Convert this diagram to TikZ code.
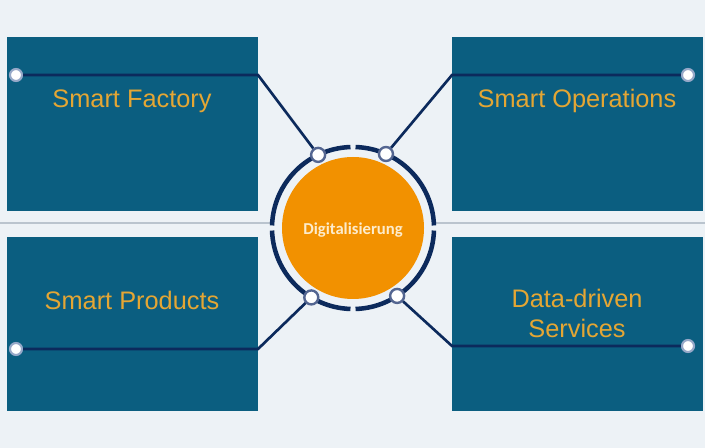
\documentclass[tikz,border=0pt]{standalone}
\usepackage{fontspec}
\setmainfont{Liberation Sans}
\newfontfamily\calib{Carlito}
\usetikzlibrary{positioning,calc}
\definecolor{bgcol}{RGB}{237,242,246}
\definecolor{teal}{RGB}{11,94,128}
\definecolor{navy}{RGB}{12,42,92}
\definecolor{gold}{RGB}{228,166,52}
\definecolor{orng}{RGB}{242,145,0}
\definecolor{cream}{RGB}{253,236,204}
\definecolor{pin}{RGB}{84,102,145}
\definecolor{pinlight}{RGB}{150,168,200}
\definecolor{grayline}{RGB}{186,196,206}
\tikzset{
	field/.style={fill=teal, draw=none, minimum width=188pt, minimum height=130pt, anchor=north west, inner sep=0pt},
	title/.style={text=gold, font=\fontsize{19}{22.5}\selectfont, align=center},
	link/.style={draw=navy, line width=2pt},
	knot/.style={circle, fill=white, draw=pin, line width=1.8pt, minimum size=10.5pt, inner sep=0pt},
	tip/.style={circle, fill=white, draw=pinlight, line width=1.6pt, minimum size=9pt, inner sep=0pt}
}
\begin{document}
\begin{tikzpicture}[x=0.75pt,y=0.75pt,yscale=-1]
	%Background
	\fill[bgcol] (0,0) rectangle (705,448);
	\useasboundingbox (0,0) rectangle (705,448);
	
	%Straight Lines: separator
	\draw[grayline, line width=0.8pt] (0,223) -- (272,223);
	\draw[grayline, line width=0.8pt] (435,223) -- (705,223);
	
	%Shape: Rectangles
	\node[field] (sf) at (7,37) {};
	\node[field] (so) at (452,37) {};
	\node[field] (sp) at (7,237) {};
	\node[field] (ds) at (452,237) {};
	
	% Text Nodes
	\node[title] (sfl) at (132,101) {Smart Factory};
	\node[title] (sol) at (577,101) {Smart Operations};
	\node[title] (spl) at (132,300) {Smart Products};
	\node[title] (dsl) at (577,313) {Data-driven\\Services};
	
	%Shape: Circle
	\coordinate (c) at (353,228);
	\node[circle, fill=orng, minimum size=106.5pt, inner sep=0pt] (dig) at (c) {};
	\node[text=cream, font=\calib\bfseries\fontsize{12.5}{14}\selectfont] (digl) at (353,230) {Digitalisierung};
	
	%Curve Lines: ring
	\foreach \a in {0,90,180,270}
		\draw[navy, line width=3.4pt] (c) ++(\a+1.8:81) arc (\a+1.8:\a+88.2:81);
	
	%Shape: Circles on ring and ends
	\node[knot] (sfk) at ($(c)+(-115.5:81)$) {};
	\node[knot] (sok) at ($(c)+(-66:81)$) {};
	\node[knot] (spk) at ($(c)+(121:81)$) {};
	\node[knot] (dsk) at ($(c)+(57:81)$) {};
	\node[tip] (sft) at (16,75) {};
	\node[tip] (sot) at (688,75) {};
	\node[tip] (spt) at (16,349) {};
	\node[tip] (dst) at (688,346) {};
	
	%Straight Lines: connectors
	\coordinate (sfb) at (258,75);
	\coordinate (sob) at (452,75);
	\coordinate (spb) at (258,349);
	\coordinate (dsb) at (452,346);
	\draw[link] (sft) -- (sfb) -- (sfk);
	\draw[link] (sot) -- (sob) -- (sok);
	\draw[link] (spt) -- (spb) -- (spk);
	\draw[link] (dst) -- (dsb) -- (dsk);
\end{tikzpicture}
\end{document}
